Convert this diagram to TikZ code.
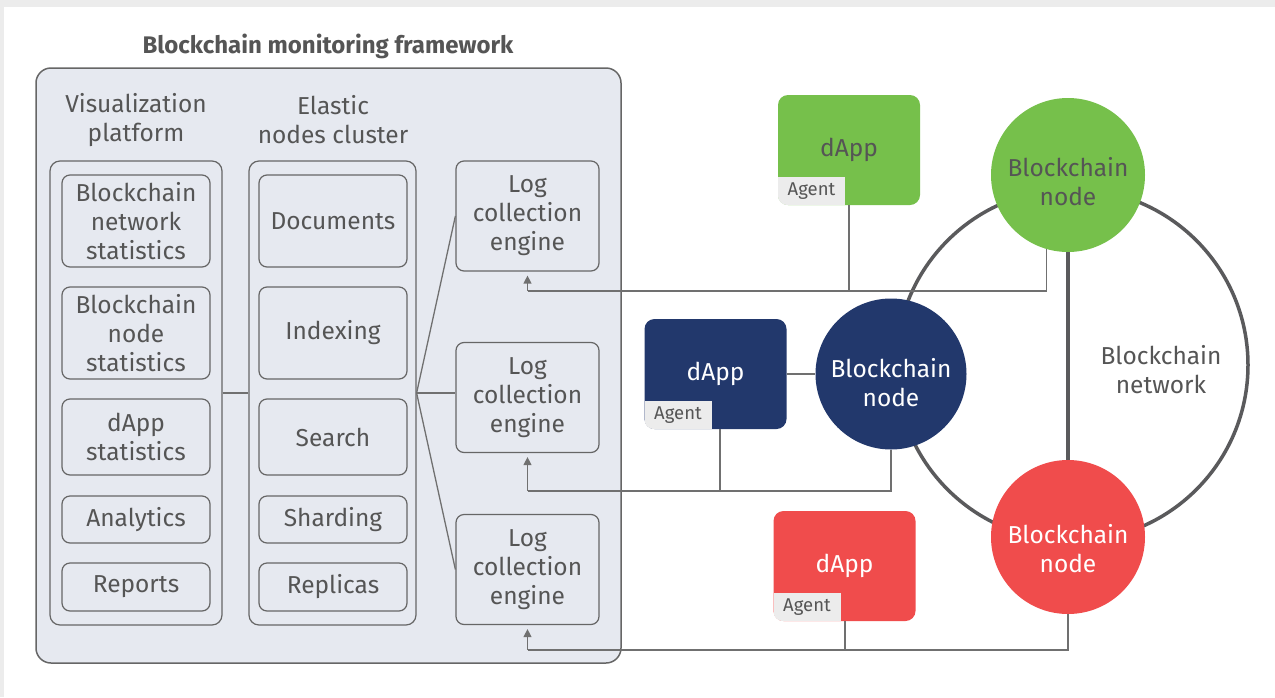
\documentclass[tikz,border=0pt]{standalone}
\usepackage{fontspec}
\setmainfont{Fira Sans}
\usetikzlibrary{arrows.meta,calc}
\definecolor{txt}{HTML}{555555}
\definecolor{linec}{HTML}{666666}
\definecolor{connc}{HTML}{707070}
\definecolor{ringc}{HTML}{5A5A5C}
\definecolor{framebg}{HTML}{E6E9F0}
\definecolor{pagebg}{HTML}{ECECEC}
\definecolor{agentbg}{HTML}{ECECEC}
\definecolor{cgreen}{HTML}{76C04B}
\definecolor{cnavy}{HTML}{22386C}
\definecolor{cred}{HTML}{F04C4C}
\newcommand\myfz{\fontsize{24.5}{29}\selectfont}
\newcommand\myfs{\fontsize{18.5}{20}\selectfont}
\begin{document}
\begin{tikzpicture}[x=1pt,y=-1pt,
  frame/.style={draw=linec, fill=framebg, line width=1.5, rounded corners=15, inner sep=0},
  colbox/.style={draw=linec, line width=1.2, rounded corners=10, inner sep=0},
  ibox/.style={draw=linec, line width=1.2, rounded corners=8, align=center, text=txt, font=\myfz, inner sep=0},
  lbl/.style={align=center, text=txt, font=\myfz, inner sep=0},
  conn/.style={draw=connc, line width=1.3},
  arr/.style={conn, -{Triangle[length=8,width=8]}, shorten >=4},
  dapp/.style={rounded corners=10, minimum width=142, minimum height=110, inner sep=0, font=\myfz},
  agent/.style={fill=agentbg, text=txt, font=\myfs, minimum width=67, minimum height=28, inner sep=0},
  bnode/.style={circle, minimum size=154, inner sep=0, align=center, font=\myfz},
  ctext/.style={align=center, font=\myfz, inner sep=0}
]
\useasboundingbox (0,0) rectangle (1275,697);
\fill[pagebg] (0,0) rectangle (1275,697);
\fill[white] (4,7) rectangle (1275,697);

% framework
\node[font=\bfseries\fontsize{24}{28}\selectfont, text=txt] (title) at (328,46) {Blockchain monitoring framework};
\node[frame, minimum width=585, minimum height=595] (frame) at (328.5,365.5) {};
\node[lbl] (vishead) at (136,120) {Visualization\\platform};
\node[lbl] (elhead) at (333,120) {Elastic\\nodes cluster};

\node[colbox, minimum width=172, minimum height=464] (vcol) at (136,393) {};
\node[colbox, minimum width=167, minimum height=464] (ecol) at (332.5,393) {};

\node[ibox, minimum width=148, minimum height=92] (v1) at (136,221) {Blockchain\\network\\statistics};
\node[ibox, minimum width=148, minimum height=92] (v2) at (136,333) {Blockchain\\node\\statistics};
\node[ibox, minimum width=148, minimum height=76] (v3) at (136,437) {dApp\\statistics};
\node[ibox, minimum width=148, minimum height=47] (v4) at (136,519.5) {Analytics};
\node[ibox, minimum width=148, minimum height=48] (v5) at (136,587) {Reports};

\node[ibox, minimum width=148, minimum height=92] (e1) at (333,221) {Documents};
\node[ibox, minimum width=148, minimum height=92] (e2) at (333,333) {Indexing};
\node[ibox, minimum width=148, minimum height=76] (e3) at (333,437) {Search};
\node[ibox, minimum width=148, minimum height=47] (e4) at (333,519.5) {Sharding};
\node[ibox, minimum width=148, minimum height=48] (e5) at (333,587) {Replicas};

\node[ibox, minimum width=143, minimum height=110] (lce1) at (527.5,216) {Log\\collection\\engine};
\node[ibox, minimum width=143, minimum height=110] (lce2) at (527.5,397.5) {Log\\collection\\engine};
\node[ibox, minimum width=143, minimum height=110] (lce3) at (527.5,569.5) {Log\\collection\\engine};

\draw[conn] (vcol.east) -- (ecol.west);
\draw[conn] (ecol.east) -- (lce1.west);
\draw[conn] (ecol.east) -- (ecol.east -| lce2.west);
\draw[conn] (ecol.east) -- (lce3.west);

% blockchain network
\node[circle, draw=ringc, line width=3.5, minimum size=352, inner sep=0] (ring) at (1072,365) {};
\node[lbl] (netlbl) at (1161,370) {Blockchain\\network};

\node[bnode, fill=cgreen] (gnode) at (1068,175) {};
\node[bnode, fill=cnavy, minimum size=151] (nnode) at (891,374) {};
\node[bnode, fill=cred] (rnode) at (1068,537) {};
\node[ctext, text=txt] (gtext) at ([yshift=-7pt]gnode.center) {Blockchain\\node};
\node[ctext, text=white] (ntext) at ([yshift=-9pt]nnode.center) {Blockchain\\node};
\node[ctext, text=white] (rtext) at ([yshift=-12pt]rnode.center) {Blockchain\\node};
\draw[draw=ringc, line width=4] (gnode.south) -- (rnode.north);

% dApps
\node[dapp, fill=cgreen, text=txt] (gdapp) at (849,150) {dApp};
\node[dapp, fill=cnavy, text=white] (ndapp) at (715.5,374) {dApp};
\node[dapp, fill=cred, text=white] (rdapp) at (844.5,566) {dApp};
\begin{scope}
\clip[rounded corners=10] (gdapp.south west) rectangle (gdapp.north east);
\node[agent, anchor=south west] (gagent) at (gdapp.south west) {Agent};
\end{scope}
\begin{scope}
\clip[rounded corners=10] (ndapp.south west) rectangle (ndapp.north east);
\node[agent, anchor=south west] (nagent) at (ndapp.south west) {Agent};
\end{scope}
\begin{scope}
\clip[rounded corners=10] (rdapp.south west) rectangle (rdapp.north east);
\node[agent, anchor=south west] (ragent) at (rdapp.south west) {Agent};
\end{scope}

\draw[conn] (ndapp.east) -- (nnode.west);

% feedback lines
\coordinate (a1) at (527.5,291);
\coordinate (a2) at (527.5,491);
\coordinate (a3) at (527.5,650);
\coordinate (gd) at (849,291);
\coordinate (nd) at (720,491);
\coordinate (rd) at (845,650);

\draw[conn] (gnode.-106.6) |- (a1);
\draw[arr] (a1) -- (lce1.south);
\draw[conn] (gd |- gdapp.south) -- (gd);

\draw[conn] (nnode.south) |- (a2);
\draw[arr] (a2) -- (lce2.south);
\draw[conn] (nd |- ndapp.south) -- (nd);

\draw[conn] (rnode.south) |- (a3);
\draw[arr] (a3) -- (lce3.south);
\draw[conn] (rd |- rdapp.south) -- (rd);
\end{tikzpicture}
\end{document}
